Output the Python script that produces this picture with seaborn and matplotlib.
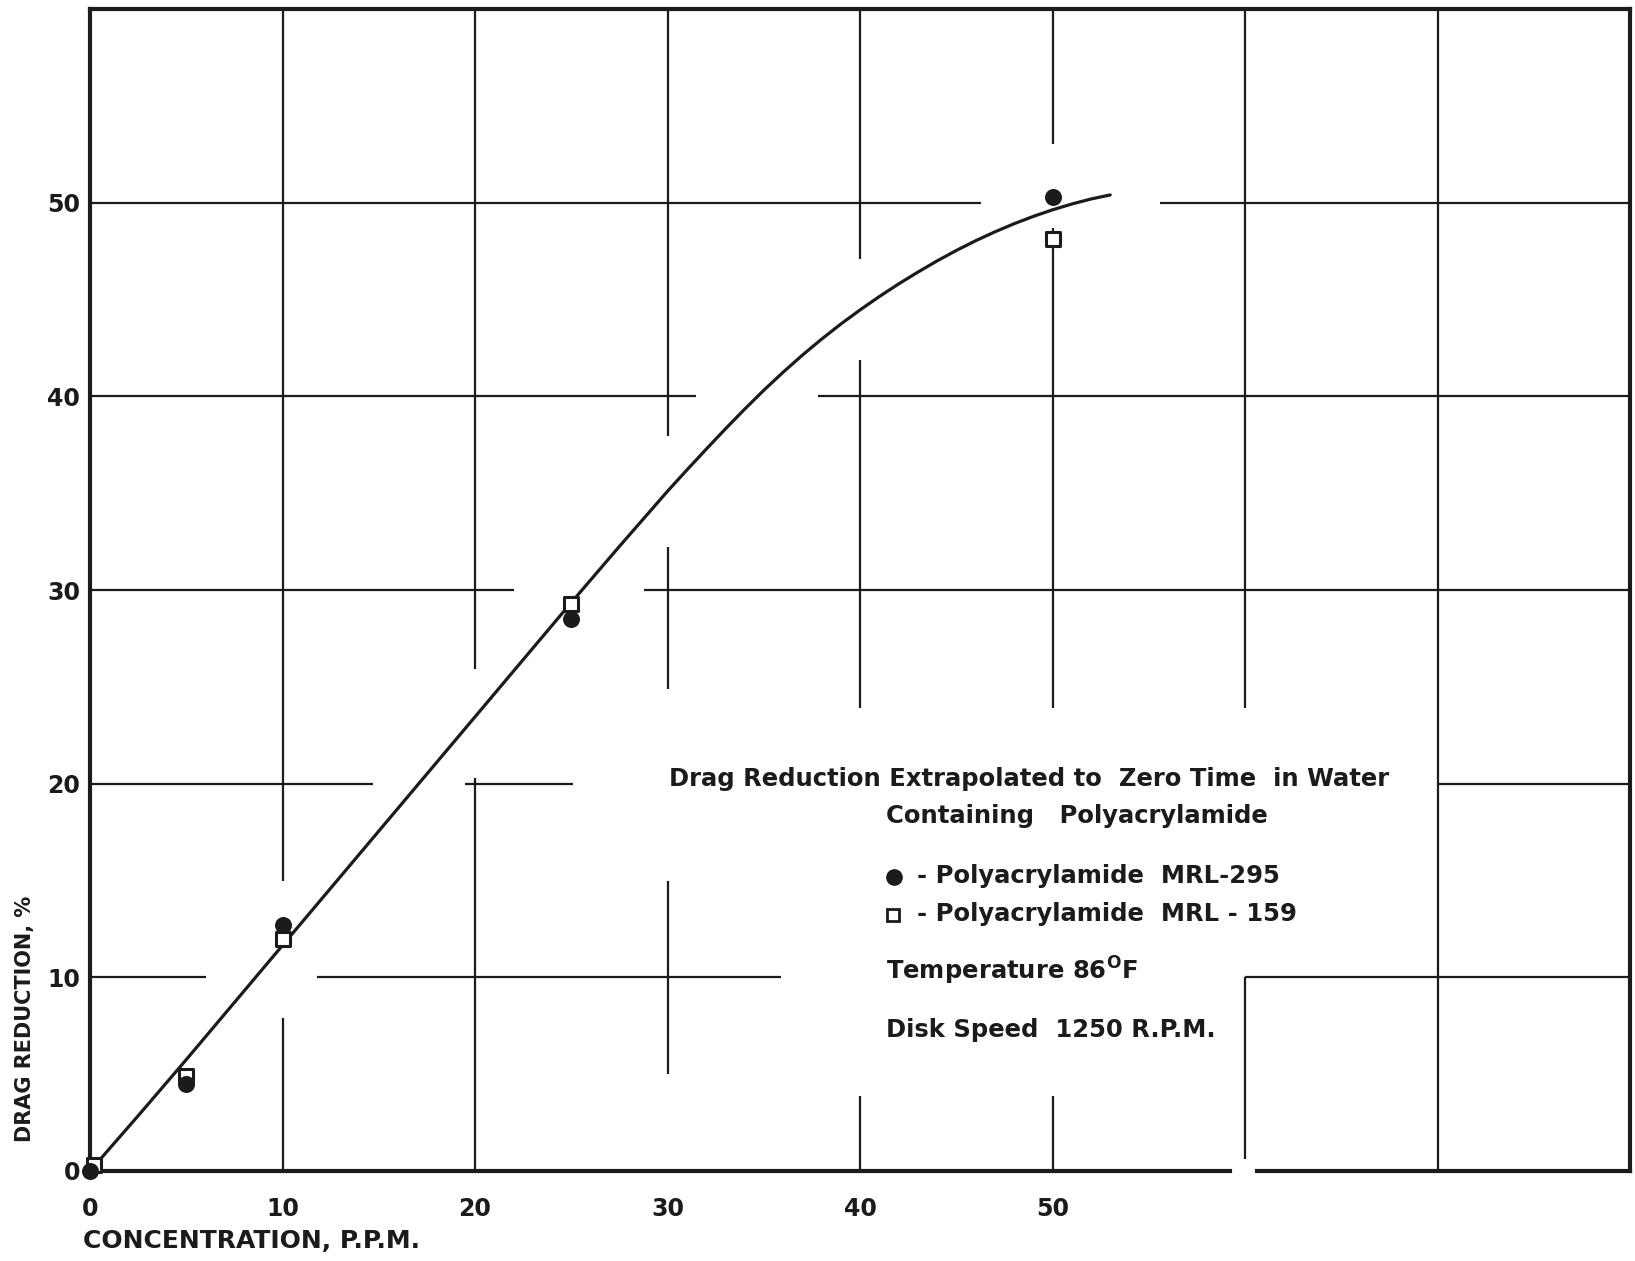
import matplotlib
matplotlib.use("Agg")
import matplotlib.pyplot as plt
from matplotlib.lines import Line2D
import seaborn as sns

# Measured drag reduction (%) against polymer concentration (p.p.m.)
conc_mrl295 = [0, 5, 10, 25, 50]
drag_mrl295 = [0.0, 4.5, 12.7, 28.5, 50.3]
conc_mrl159 = [0.2, 5, 10, 25, 50]
drag_mrl159 = [0.3, 4.9, 12.0, 29.3, 48.1]

# Hand-faired curve through both series
curve_conc = [0, 2.5, 5, 7.5, 10, 12.5, 15, 17.5, 20, 22.5, 25, 27.5,
              30, 31, 32, 33, 34, 35, 36, 37, 38, 39, 40, 41, 42, 43, 44,
              45, 46, 47, 48, 49, 50, 51, 52, 53]
curve_drag = [0, 2.85, 5.75, 8.7, 11.65, 14.6, 17.55, 20.5, 23.45, 26.4,
              29.35, 32.25, 35.1, 36.19, 37.26, 38.31, 39.33, 40.31, 41.24,
              42.12, 42.95, 43.73, 44.46, 45.15, 45.8, 46.41, 46.99, 47.53,
              48.03, 48.49, 48.91, 49.29, 49.63, 49.93, 50.19, 50.4]

x_ticks = [0, 10, 20, 30, 40, 50]
y_ticks = [0, 10, 20, 30, 40, 50]

title_lines = ["Drag Reduction Extrapolated to  Zero Time  in Water",
               "Containing   Polyacrylamide"]
series_labels = ["- Polyacrylamide  MRL-295", "- Polyacrylamide  MRL - 159"]
condition_lines = [r"Temperature 86$^{\mathbf{O}}$F", "Disk Speed  1250 R.P.M."]

INK = "#1b1b1b"
W, H = 1635, 1261

sns.set_theme(style="white")
plt.rcParams["font.family"] = ["DejaVu Sans"]
plt.rcParams["font.weight"] = "bold"
plt.rcParams["mathtext.fontset"] = "dejavusans"

fig = plt.figure(figsize=(W / 100, H / 100), dpi=100)
fig.patch.set_facecolor("white")
ax = fig.add_axes([90 / W, 1 - 1171 / H, (1630 - 90) / W, (1171 - 9) / H])
ax.set_facecolor("white")
ax.set_xlim(0, 80)
ax.set_ylim(0, 60)
for sp in ax.spines.values():
    sp.set_visible(False)

# Grid lines, broken where the curve and the notes run through
h_grid = {
    10: [(0, 6.0), (11.8, 35.9), (60, 80)],
    20: [(0, 14.7), (19.5, 25.1), (70, 80)],
    30: [(0, 22.0), (28.8, 80)],
    40: [(0, 31.5), (37.8, 80)],
    50: [(0, 46.3), (55.6, 80)],
}
v_grid = {
    10: [(0, 7.9), (15.0, 60)],
    20: [(0, 20.3), (25.9, 60)],
    30: [(5.0, 15.0), (24.9, 32.2), (37.95, 60)],
    40: [(0, 3.85), (23.9, 41.9), (47.1, 60)],
    50: [(0, 3.85), (23.9, 48.7), (53.05, 60)],
    60: [(0.6, 10), (23.9, 60)],
    70: [(0, 60)],
}
for y, segs in h_grid.items():
    for x0, x1 in segs:
        ax.hlines(y, x0, x1, color=INK, lw=1.6, zorder=1)
for x, segs in v_grid.items():
    for y0, y1 in segs:
        ax.vlines(x, y0, y1, color=INK, lw=1.6, zorder=1)

# Heavy frame
frame_kw = dict(color=INK, lw=3.0, clip_on=False, zorder=2, capstyle="projecting")
ax.hlines(60, 0, 80, **frame_kw)
ax.vlines(0, 0, 60, **frame_kw)
ax.vlines(80, 0, 60, **frame_kw)
ax.hlines(0, 0, 59.2, **frame_kw)
ax.hlines(0, 60.6, 80, **frame_kw)

# Faired curve
sns.lineplot(x=curve_conc, y=curve_drag, ax=ax, color=INK, lw=2.3,
             sort=False, estimator=None, zorder=3)

# Data points
sns.scatterplot(x=conc_mrl159, y=drag_mrl159, ax=ax, marker="s", s=95,
                facecolor="white", edgecolor=INK, linewidth=2.2, zorder=4,
                clip_on=False)
sns.scatterplot(x=conc_mrl295, y=drag_mrl295, ax=ax, marker="o", s=150,
                color=INK, linewidth=0, zorder=5, clip_on=False)

# Ticks
ax.set_xticks(x_ticks)
ax.set_xticklabels([str(v) for v in x_ticks])
ax.set_yticks(y_ticks)
ax.set_yticklabels([str(v) for v in y_ticks])
ax.tick_params(axis="both", length=0, labelsize=17, colors=INK)
ax.tick_params(axis="x", pad=19)
ax.tick_params(axis="y", pad=7)
for lab in ax.get_xticklabels() + ax.get_yticklabels():
    lab.set_fontweight("bold")
ax.set_xlabel("")
ax.set_ylabel("")

# Axis titles
fig.text(83 / W, 1 - 1241 / H, "CONCENTRATION, P.P.M.", ha="left", va="center",
         fontsize=18, fontweight="bold", color=INK)
fig.text(25 / W, 1 - 1142 / H, "DRAG REDUCTION, %", ha="center", va="bottom",
         rotation=90, fontsize=15, fontweight="bold", color=INK)

# Notes block
txt_kw = dict(ha="left", va="baseline", fontsize=17.5, fontweight="bold", color=INK)
fig.text(669 / W, 1 - 786 / H, title_lines[0], **txt_kw)
fig.text(886 / W, 1 - 823 / H, title_lines[1], **txt_kw)
fig.text(917 / W, 1 - 883 / H, series_labels[0], **txt_kw)
fig.text(917 / W, 1 - 921 / H, series_labels[1], **txt_kw)
fig.text(886 / W, 1 - 980 / H, condition_lines[0], **txt_kw)
fig.text(886 / W, 1 - 1037 / H, condition_lines[1], **txt_kw)

fig.add_artist(Line2D([894 / W], [1 - 877 / H], marker="o", markersize=11,
                      color=INK, linestyle="none", transform=fig.transFigure))
fig.add_artist(Line2D([893 / W], [1 - 915 / H], marker="s", markersize=8,
                      markerfacecolor="white", markeredgecolor=INK,
                      markeredgewidth=2, linestyle="none",
                      transform=fig.transFigure))

fig.savefig("out.png", dpi=100, facecolor="white")
